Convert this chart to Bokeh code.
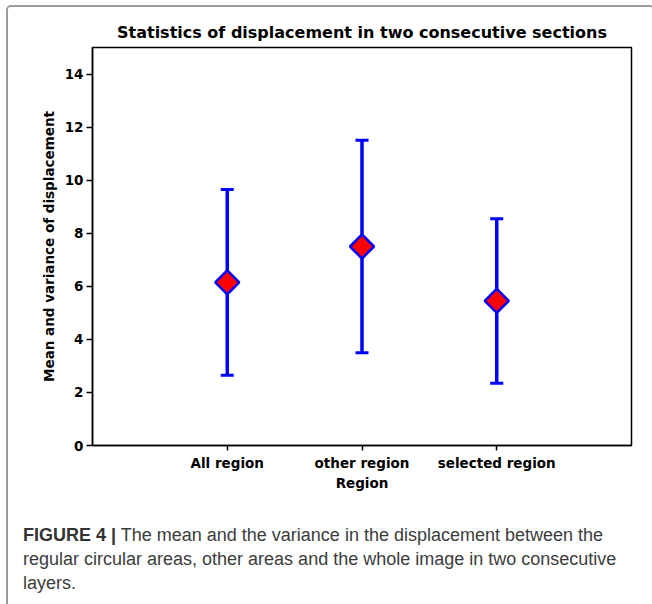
import math
from bokeh.plotting import figure
from bokeh.layouts import column
from bokeh.models import (Range1d, FixedTicker, ColumnDataSource, Whisker, TeeHead, Div)
from bokeh.embed import file_html
from bokeh.resources import INLINE

# ---- data ----
regions = ["All region", "other region", "selected region"]
means = [6.15, 7.5, 5.45]
errors = [3.5, 4.0, 3.1]
y_ticks = [0, 2, 4, 6, 8, 10, 12, 14]

title_text = "Statistics of displacement in two consecutive sections"
x_label = "Region"
y_label = "Mean and variance of displacement"
caption_bold = "FIGURE 4 |"
caption_lines = [
    "The mean and the variance in the displacement between the",
    "regular circular areas, other areas and the whole image in two consecutive",
    "layers.",
]

xs = list(range(len(regions)))
src = ColumnDataSource(dict(
    x=xs,
    mean=means,
    upper=[m + e for m, e in zip(means, errors)],
    lower=[m - e for m, e in zip(means, errors)],
))

W, H = 635, 490
p = figure(width=W, height=H, output_backend="svg", toolbar_location=None,
           x_range=Range1d(-1, 3), y_range=Range1d(0, 15),
           min_border_left=84, min_border_right=12, min_border_top=40,
           min_border_bottom=52)

p.title.text = title_text
p.title.align = "center"
p.title.text_font = "DejaVu Sans"
p.title.text_font_style = "bold"
p.title.text_font_size = "16px"
p.title.text_color = "black"
p.title.standoff = 11

p.xgrid.visible = False
p.ygrid.visible = False
p.outline_line_color = "black"
p.outline_line_width = 1.5
p.background_fill_color = "white"
p.border_fill_color = "white"

for ax in (p.xaxis[0], p.yaxis[0]):
    ax.axis_line_color = "black"
    ax.axis_line_width = 1.5
    ax.major_tick_line_color = "black"
    ax.major_tick_line_width = 1.5
    ax.major_tick_in = 0
    ax.minor_tick_line_color = None
    ax.major_label_text_font = "DejaVu Sans"
    ax.major_label_text_font_style = "bold"
    ax.major_label_text_font_size = "13.5px"
    ax.major_label_text_color = "black"
    ax.axis_label_text_font = "DejaVu Sans"
    ax.axis_label_text_font_style = "bold"
    ax.axis_label_text_font_size = "13.5px"
    ax.axis_label_text_color = "black"

p.xaxis.ticker = FixedTicker(ticks=xs)
p.xaxis.major_label_overrides = {i: r for i, r in zip(xs, regions)}
p.xaxis.major_tick_out = 5
p.xaxis.major_label_standoff = 4
p.xaxis.axis_label = x_label
p.xaxis.axis_label_standoff = 1

p.yaxis.ticker = FixedTicker(ticks=y_ticks)
p.yaxis.major_tick_out = 6
p.yaxis.major_label_standoff = 3
p.yaxis.axis_label = y_label
p.yaxis.axis_label_standoff = 5

wh = Whisker(source=src, base="x", upper="upper", lower="lower",
             line_color="blue", line_width=3.5,
             upper_head=TeeHead(size=13, line_color="blue", line_width=3),
             lower_head=TeeHead(size=13, line_color="blue", line_width=3))
p.add_layout(wh)

p.scatter("x", "mean", source=src, marker="square", angle=math.pi / 4, size=17,
          fill_color="red", line_color="blue", line_width=2.5)

# caption
caption_html = ('<span style="font-weight:bold;color:#333333">' + caption_bold + '</span> '
                + "<br>".join(caption_lines))
cap = Div(text=caption_html, width=W, height=107,
          styles={"box-sizing": "border-box", "padding": "21px 0 0 10px",
                  "font-family": "'Liberation Sans', Arial, sans-serif",
                  "font-size": "18px", "line-height": "24px", "color": "#3c3c3c",
                  "white-space": "nowrap", "background": "white"})

layout = column(p, cap, spacing=0,
                styles={"margin": "5px 0 0 6px",
                        "border-left": "2px solid #9a9a9a",
                        "border-top": "2px solid #9a9a9a",
                        "border-right": "2px solid #9a9a9a",
                        "border-top-left-radius": "5px",
                        "border-top-right-radius": "5px",
                        "background": "white"})

open("out.html", "w").write(file_html(layout, INLINE))
